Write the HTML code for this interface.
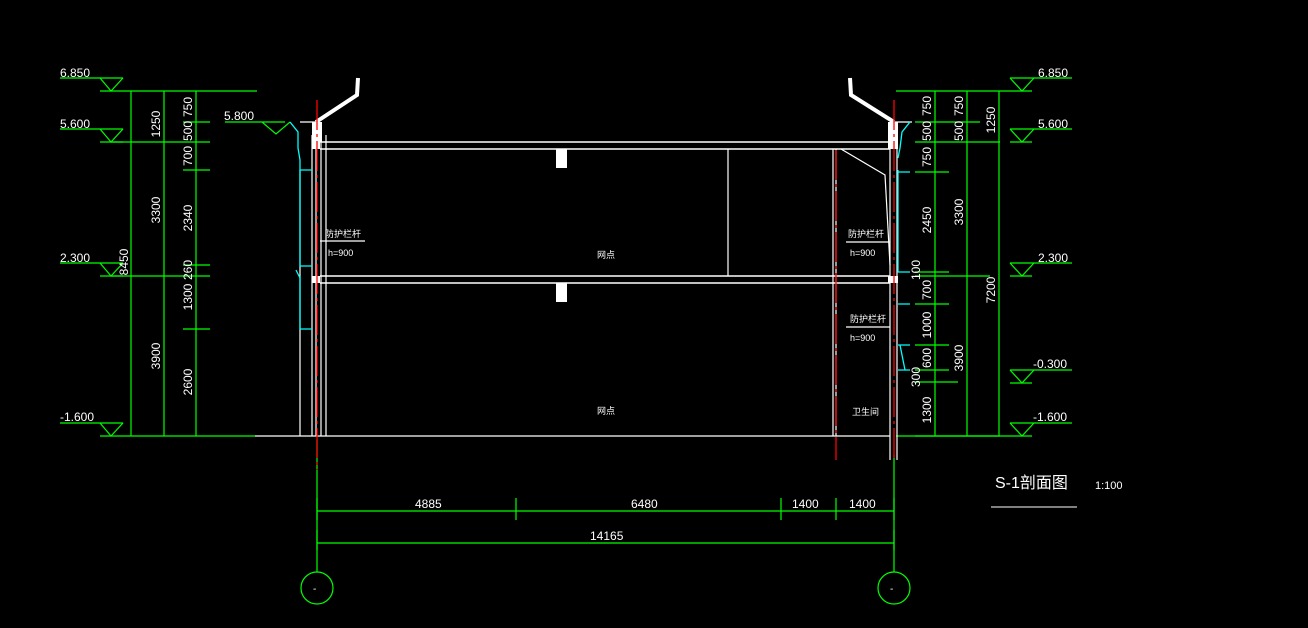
<!DOCTYPE html>
<html><head><meta charset="utf-8"><style>
html,body{margin:0;padding:0;background:#000;width:1308px;height:628px;overflow:hidden}
svg{display:block}
text{font-family:"Liberation Sans","Noto Sans CJK SC",sans-serif}
</style></head><body>
<svg width="1308" height="628" viewBox="0 0 1308 628" xmlns="http://www.w3.org/2000/svg">
<g stroke="#00ff00" stroke-width="1.2" fill="none">
<!-- left level marks -->
<path d="M60 78H123 M100 78L111 91L123 78"/>
<path d="M60 129H123 M100 129L111 142L123 129"/>
<path d="M60 263H123 M100 263L111 276L123 263"/>
<path d="M60 423H123 M100 423L111 436L123 423"/>
<path d="M100 91H257 M100 142H123 M100 276H123 M100 436H255"/>
<path d="M111 142H210 M111 276H210 M183 122H210 M183 170H210 M183 265H210 M183 329H210"/>
<path d="M131 91V436 M164 91V436 M196 91V436"/>
<path d="M225 122H285 L262 122 L276 134 L290 122"/>
<!-- right level marks -->
<path d="M1010 78H1072 M1010 78L1022 91L1034 78"/>
<path d="M1010 129H1072 M1010 129L1022 142L1034 129"/>
<path d="M1010 263H1072 M1010 263L1022 276L1034 263"/>
<path d="M1010 370H1072 M1010 370L1022 383L1034 370"/>
<path d="M1010 423H1072 M1010 423L1022 436L1034 423"/>
<path d="M896 91H1032 M896 436H1032 M1010 142H1032 M1010 276H1032 M1010 383H1032"/>
<path d="M915 122H980 M915 142H1000 M915 172H949 M915 272H949 M915 276H990 M915 304H949 M915 345H949 M915 370H949 M915 382H958 M915 436H1000"/>
<path d="M935 91V436 M967 91V436 M999 91V436"/>
<!-- bottom dims -->
<path d="M317 511H894 M317 543H894"/>
<path d="M317 498V520 M516 498V520 M781 498V520 M836 498V520 M894 498V520 M317 530V550 M894 530V550"/>
<path d="M317 440V572 M894 455V572"/>
<circle cx="317" cy="588" r="16"/><circle cx="894" cy="588" r="16"/>
</g>
<g fill="#fff" font-size="12">
<text x="60" y="77">6.850</text><text x="60" y="128">5.600</text><text x="60" y="262">2.300</text><text x="60" y="421">-1.600</text>
<text x="224" y="120">5.800</text>
<text x="1038" y="77">6.850</text><text x="1038" y="128">5.600</text><text x="1038" y="262">2.300</text><text x="1033" y="368">-0.300</text><text x="1033" y="421">-1.600</text>
<text x="415" y="508">4885</text><text x="631" y="508">6480</text><text x="792" y="508">1400</text><text x="849" y="508">1400</text><text x="590" y="540">14165</text>
<text x="313" y="592" font-size="10">-</text><text x="890" y="592" font-size="10">-</text>
<text x="995" y="488" font-size="16">S-1剖面图</text><text x="1095" y="489" font-size="11">1:100</text>
</g>
<g fill="#fff" font-size="12">
<text transform="translate(128,262) rotate(-90)" text-anchor="middle">8450</text>
<text transform="translate(160,124) rotate(-90)" text-anchor="middle">1250</text>
<text transform="translate(160,210) rotate(-90)" text-anchor="middle">3300</text>
<text transform="translate(160,356) rotate(-90)" text-anchor="middle">3900</text>
<text transform="translate(192,107) rotate(-90)" text-anchor="middle">750</text>
<text transform="translate(192,131) rotate(-90)" text-anchor="middle">500</text>
<text transform="translate(192,156) rotate(-90)" text-anchor="middle">700</text>
<text transform="translate(192,218) rotate(-90)" text-anchor="middle">2340</text>
<text transform="translate(192,270) rotate(-90)" text-anchor="middle">260</text>
<text transform="translate(192,297) rotate(-90)" text-anchor="middle">1300</text>
<text transform="translate(192,382) rotate(-90)" text-anchor="middle">2600</text>
<text transform="translate(931,106) rotate(-90)" text-anchor="middle">750</text>
<text transform="translate(931,131) rotate(-90)" text-anchor="middle">500</text>
<text transform="translate(931,157) rotate(-90)" text-anchor="middle">750</text>
<text transform="translate(931,220) rotate(-90)" text-anchor="middle">2450</text>
<text transform="translate(920,270) rotate(-90)" text-anchor="middle">100</text>
<text transform="translate(931,290) rotate(-90)" text-anchor="middle">700</text>
<text transform="translate(931,325) rotate(-90)" text-anchor="middle">1000</text>
<text transform="translate(931,358) rotate(-90)" text-anchor="middle">600</text>
<text transform="translate(920,377) rotate(-90)" text-anchor="middle">300</text>
<text transform="translate(931,410) rotate(-90)" text-anchor="middle">1300</text>
<text transform="translate(963,106) rotate(-90)" text-anchor="middle">750</text>
<text transform="translate(963,131) rotate(-90)" text-anchor="middle">500</text>
<text transform="translate(963,212) rotate(-90)" text-anchor="middle">3300</text>
<text transform="translate(963,358) rotate(-90)" text-anchor="middle">3900</text>
<text transform="translate(995,120) rotate(-90)" text-anchor="middle">1250</text>
<text transform="translate(995,290) rotate(-90)" text-anchor="middle">7200</text>
</g>
<line x1="991" y1="507" x2="1077" y2="507" stroke="#fff" stroke-width="1"/>
<!-- building -->
<g stroke="#fff" fill="none" stroke-width="1.2">
<path d="M320 142H890 M320 149H890 M320 276H890 M320 283H890" stroke-width="1.5"/>
<path d="M300 170V436 M312 135V436 M316 130V436 M321 130V436 M326 135V436"/>
<path d="M255 436H890"/>
<path d="M728 149V276 M833 149V436 M836 149V436"/>
<path d="M890 130V460 M897 130V460"/>
<path d="M841 149L885 175L890 265"/>
<path d="M320 241H365 M846 242H890 M846 327H890"/>
<path d="M316 122L357 95L358 78 M894 122L851 95L850 78" stroke-width="4"/>
<path d="M300 122H316 M894 122H912"/>
</g>
<rect x="312" y="142" width="8" height="7" fill="#fff"/><rect x="312" y="276" width="8" height="7" fill="#fff"/>
<rect x="556" y="149" width="11" height="19" fill="#fff"/><rect x="556" y="283" width="11" height="19" fill="#fff"/>
<rect x="312" y="122" width="10" height="20" fill="#fff"/><rect x="888" y="122" width="10" height="20" fill="#fff"/>
<rect x="888" y="142" width="10" height="7" fill="#fff"/><rect x="888" y="276" width="10" height="7" fill="#fff"/>
<g stroke="#00ffff" fill="none" stroke-width="1.3">
<path d="M290 122L298 132L298 148L300 160L300 170H312 M300 170V266H312 M300 276V329H312 M296 270L300 278"/>
<path d="M910 122L902 132L900 148L898 158 M898 172H910 M898 170V272H910 M898 304H910 M898 345H910 M900 345L905 370 M898 370H910"/>
</g>
<g stroke="#ff0000" stroke-width="1.3" stroke-dasharray="30 4 3 4">
<line x1="317" y1="100" x2="317" y2="470"/>
<line x1="894" y1="100" x2="894" y2="460"/>
<line x1="836" y1="150" x2="836" y2="460"/>
</g>
<g fill="#fff" font-size="9">
<text x="325" y="237">防护栏杆</text><text x="328" y="256">h=900</text>
<text x="848" y="237">防护栏杆</text><text x="850" y="256">h=900</text>
<text x="850" y="322">防护栏杆</text><text x="850" y="341">h=900</text>
<text x="852" y="415">卫生间</text>
<text x="597" y="258">网点</text><text x="597" y="414">网点</text>
</g>
</svg>
</body></html>
